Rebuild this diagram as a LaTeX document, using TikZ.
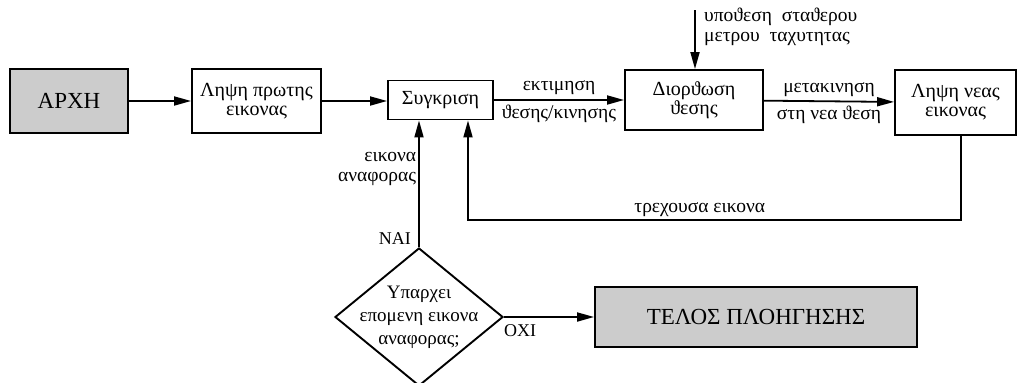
\documentclass[tikz,border=0pt]{standalone}
\usepackage{fontspec}
\setmainfont{Liberation Serif}
\usetikzlibrary{arrows.meta,shapes.geometric}

\begin{document}
\begin{tikzpicture}[x=1pt,y=1pt,
    box/.style={draw,line width=1.9pt,align=center,inner sep=0pt,font=\fontsize{20}{19}\selectfont},
    endbox/.style={box,fill=black!20,font=\fontsize{23}{26}\selectfont},
    arrow/.style={line width=1.8pt,-{Triangle[length=17pt,width=9pt]}},
    lbl/.style={inner sep=2pt,font=\fontsize{19.5}{20}\selectfont},
    edgelbl/.style={lbl,inner sep=4pt}]
    \useasboundingbox (0,0) rectangle (1018,-383);

    % Start and first image
    \node[endbox,minimum width=118pt,minimum height=64pt] (start) at (69,-101) {ΑΡΧΗ};
    \node[box,minimum width=129pt,minimum height=64pt] (first) at (256.5,-101) {Ληψη πρωτης\\εικονας};
    \draw[arrow] (start) -- (first);

    % Comparison
    \node[box,minimum width=105pt,minimum height=39pt] (compare) at (440.5,-100) {Συγκριση};
    \draw[arrow] (first.east) -- (first.east -| compare.west);

    % Position correction
    \node[box,minimum width=138pt,minimum height=60pt] (correct) at (694,-100) {Διορϑωση\\ϑεσης};
    \draw[arrow] (compare) -- node[edgelbl,above] {εκτιμηση}
        node[edgelbl,below] {ϑεσης/κινησης} (correct);

    \coordinate (hyp) at (695,-10);
    \draw[arrow] (hyp) -- (hyp |- correct.north);
    \node[lbl,anchor=west,align=left] (hyptext) at (702,-27) {υποϑεση\ \ σταϑερου\\μετρου\ \ ταχυτητας};

    % New image
    \node[box,minimum width=121pt,minimum height=65pt] (newimg) at (955.5,-102.5) {Ληψη νεας\\εικονας};
    \draw[arrow] (correct) -- node[edgelbl,above] {μετακινηση}
        node[edgelbl,below] {στη νεα ϑεση} (newimg);

    % Feedback of the current image
    \coordinate (loop) at (468,-220);
    \draw[arrow] ([xshift=5.5pt]newimg.south) |- node[lbl,above,pos=0.765] {τρεχουσα εικονα} (loop) -- (loop |- compare.south);

    % Decision
    \node[draw,diamond,line width=1.9pt,minimum width=168pt,minimum height=138pt,inner sep=0pt] (check) at (419,-317) {};
    \node[align=center,font=\fontsize{19}{23}\selectfont] (checktext) at (check) {Υπαρχει\\επομενη εικονα\\αναφορας;};

    \draw[arrow] (check.north) -- node[lbl,left,align=right,pos=0.62] {εικονα\\αναφορας} (check.north |- compare.south);
    \node[lbl,anchor=south east,font=\fontsize{18}{20}\selectfont] (yes) at ([xshift=-6pt]check.north) {ΝΑΙ};

    % End of navigation
    \node[endbox,minimum width=322pt,minimum height=60pt] (finish) at (756,-317) {ΤΕΛΟΣ ΠΛΟΗΓΗΣΗΣ};
    \draw[arrow] (check.east) -- (finish.west);
    \node[lbl,anchor=north west,font=\fontsize{18}{20}\selectfont] (no) at ([xshift=-2pt,yshift=-5pt]check.east) {ΟΧΙ};
\end{tikzpicture}
\end{document}
